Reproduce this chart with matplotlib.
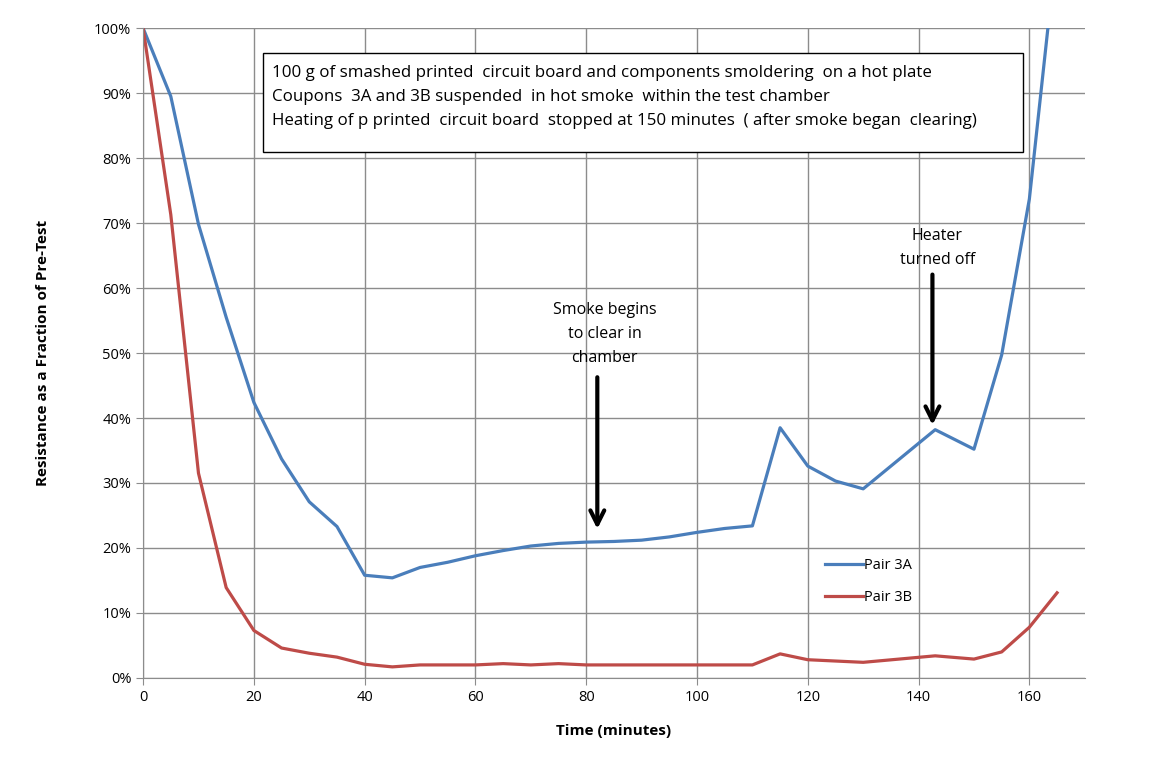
import matplotlib.pyplot as plt
from matplotlib.patches import Rectangle
from matplotlib.ticker import PercentFormatter

plt.rcParams['font.family'] = ['Open Sans', 'DejaVu Sans']

# time in minutes
time_3a = [0, 5, 10, 15, 20, 25, 30, 35, 40, 45, 50, 55, 60, 65, 70, 75, 80, 85, 90,
           95, 100, 105, 110, 115, 120, 125, 130, 143, 150, 155, 160, 165]
pair_3a = [1.00, 0.895, 0.698, 0.555, 0.424, 0.337, 0.271, 0.233, 0.158, 0.154, 0.170,
           0.178, 0.188, 0.196, 0.203, 0.207, 0.209, 0.210, 0.212, 0.217, 0.224, 0.230,
           0.234, 0.385, 0.326, 0.303, 0.291, 0.382, 0.352, 0.497, 0.737, 1.13]

time_3b = [0, 5, 10, 15, 20, 25, 30, 35, 40, 45, 50, 55, 60, 65, 70, 75, 80, 85, 90,
           95, 100, 105, 110, 115, 120, 125, 130, 143, 150, 155, 160, 165]
pair_3b = [1.00, 0.713, 0.315, 0.139, 0.073, 0.046, 0.038, 0.032, 0.021, 0.017, 0.020,
           0.020, 0.020, 0.022, 0.020, 0.022, 0.020, 0.020, 0.020, 0.020, 0.020, 0.020,
           0.020, 0.037, 0.028, 0.026, 0.024, 0.034, 0.029, 0.040, 0.078, 0.131]

note_lines = [
    "100 g of smashed printed  circuit board and components smoldering  on a hot plate",
    "Coupons  3A and 3B suspended  in hot smoke  within the test chamber",
    "Heating of p printed  circuit board  stopped at 150 minutes  ( after smoke began  clearing)",
]

fig = plt.figure(figsize=(11.54, 7.6), dpi=100)
ax = fig.add_axes([0.124, 0.108, 0.816, 0.855])

ax.plot(time_3a, pair_3a, color='#4A7EBB', lw=2.3, label='Pair 3A')
ax.plot(time_3b, pair_3b, color='#BE4B48', lw=2.3, label='Pair 3B')

ax.set_xlim(0, 170)
ax.set_ylim(0, 1.0)
ax.set_xticks(range(0, 161, 20))
ax.set_yticks([i / 10 for i in range(11)])
ax.yaxis.set_major_formatter(PercentFormatter(1.0, decimals=0))
ax.grid(True, color='#8c8c8c', lw=1)
ax.set_axisbelow(True)
for s in ['top', 'right']:
    ax.spines[s].set_visible(False)
for s in ['left', 'bottom']:
    ax.spines[s].set_color('#8c8c8c')
ax.tick_params(direction='out', length=5, color='#8c8c8c', labelsize=10.5)

ax.set_xlabel('Time (minutes)', fontsize=11, fontweight='bold', labelpad=14)
ax.set_ylabel('Resistance as a Fraction of Pre-Test', fontsize=11, fontweight='bold', labelpad=32)

# note box
ax.add_patch(Rectangle((21.7, 0.809), 137.2, 0.153, fc='white', ec='black', lw=1, zorder=3))
for i, line in enumerate(note_lines):
    ax.text(23.3, 0.931 - i * 0.037, line, fontsize=12.2, va='center', ha='left', zorder=4)

# annotations
ax.text(83.3, 0.578, "Smoke begins\nto clear in\nchamber", ha='center', va='top',
        fontsize=11.5, linespacing=1.65)
ax.annotate('', xy=(82, 0.225), xytext=(82, 0.467),
            arrowprops=dict(arrowstyle='->', lw=3, color='black', mutation_scale=25))
ax.text(143.4, 0.692, "Heater\nturned off", ha='center', va='top',
        fontsize=11.5, linespacing=1.65)
ax.annotate('', xy=(142.5, 0.385), xytext=(142.5, 0.625),
            arrowprops=dict(arrowstyle='->', lw=3, color='black', mutation_scale=25))

ax.legend(loc='upper left', bbox_to_anchor=(0.71, 0.205), frameon=False, fontsize=10.5,
          handlelength=2.6, handletextpad=0.1, labelspacing=1.2)

fig.savefig('out.png')
